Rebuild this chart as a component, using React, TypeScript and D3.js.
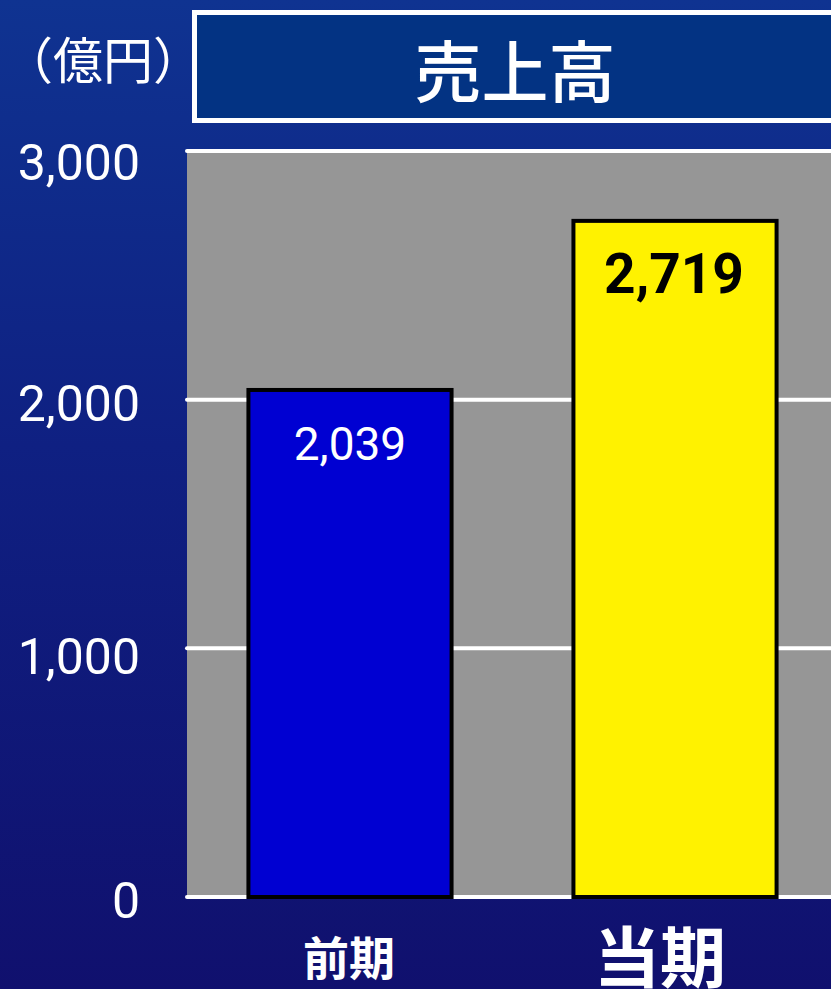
import React from "react";
import * as d3 from "d3";

const categories = ["前期", "当期"];
const values = [2039, 2719];
const barColors = ["#0000d2", "#fff200"];
const labelColors = ["#ffffff", "#000000"];
const yTicks = [0, 1000, 2000, 3000];
const title = "売上高";
const unit = "（億円）";

const W = 831;
const H = 989;
const CJK = "'Noto Sans CJK JP', 'Noto Sans', sans-serif";
const NUM = "Roboto, 'Noto Sans', sans-serif";

export default function App() {
  const x = d3.scaleBand<string>().domain(categories).range([187, 838]).paddingInner(0.375).paddingOuter(0.189);
  const y = d3.scaleLinear().domain([0, 3000]).range([897, 151]);
  const fmt = d3.format(",");
  const tickOffset: Record<number, number> = { 0: 21, 1000: 26, 2000: 21, 3000: 29 };
  const valueStyle = [
    { size: 46, weight: 400, dy: 70, dx: 0 },
    { size: 55, weight: 700, dy: 72, dx: -1 },
  ];
  const catStyle = [
    { size: 46, y: 975, dx: -1 },
    { size: 66, y: 982, dx: -15 },
  ];
  return (
    <svg width={W} height={H} style={{ position: "absolute", left: 0, top: 0 }}>
      <defs>
        <linearGradient id="bg" x1="0" y1="0" x2="0" y2="1">
          <stop offset="0" stopColor="#0f3391" />
          <stop offset="0.45" stopColor="#0f2082" />
          <stop offset="1" stopColor="#10106e" />
        </linearGradient>
      </defs>
      <rect x={0} y={0} width={W} height={H} fill="url(#bg)" />
      <rect x={194.5} y={12.5} width={700} height={108} fill="#033383" stroke="#ffffff" strokeWidth={5} />
      <text x={515} y={97} textAnchor="middle" fill="#fff" fontSize={67} fontFamily={CJK} fontWeight={500}>{title}</text>
      <text x={103} y={79} textAnchor="middle" fill="#fff" fontSize={50} fontFamily={CJK}>{unit}</text>
      <rect x={187} y={y(3000)} width={W - 187} height={y(0) - y(3000)} fill="#969696" />
      {yTicks.map((t) => (
        <g key={t}>
          <line x1={187} x2={W} y1={y(t)} y2={y(t)} stroke="#fff" strokeWidth={4} strokeLinecap="round" />
          <text x={140} y={y(t) + tickOffset[t]} textAnchor="end" fill="#fff" fontSize={50} fontFamily={NUM} fontWeight={400}>{fmt(t)}</text>
        </g>
      ))}
      {categories.map((c, i) => {
        const cx = x(c)! + x.bandwidth() / 2;
        return (
          <g key={c}>
            <rect x={x(c)!} y={y(values[i])} width={x.bandwidth()} height={y(0) - y(values[i])} fill={barColors[i]} stroke="#000" strokeWidth={4} />
            <text x={cx + valueStyle[i].dx} y={y(values[i]) + valueStyle[i].dy} textAnchor="middle" fill={labelColors[i]} fontSize={valueStyle[i].size} fontFamily={NUM} fontWeight={valueStyle[i].weight}>{fmt(values[i])}</text>
            <text x={cx + catStyle[i].dx} y={catStyle[i].y} textAnchor="middle" fill="#fff" fontSize={catStyle[i].size} fontFamily={CJK} fontWeight={700}>{c}</text>
          </g>
        );
      })}
    </svg>
  );
}
